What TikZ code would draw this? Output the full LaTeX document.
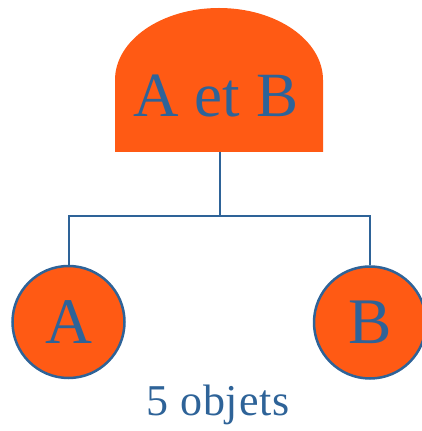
\documentclass[tikz,border=0pt]{standalone}
\usepackage{fontspec}
\setmainfont{Liberation Serif}
\definecolor{orng}{RGB}{255,90,20}
\definecolor{blu}{RGB}{46,99,152}
\tikzset{
  leaf/.style={circle,fill=orng,draw=blu,line width=2.5pt,minimum size=112pt,inner sep=0pt,text=blu,font=\fontsize{65}{65}\selectfont},
  conn/.style={draw=blu,line width=2pt},
}
\begin{document}
\begin{tikzpicture}[x=1pt,y=1pt]
\useasboundingbox (0,0) rectangle (422,431);
% dome
\fill[orng] (115,279) -- (115,351) arc (180:0:104 and 72) -- (323,279) -- cycle;
\node[anchor=base,text=blu,font=\fontsize{63}{63}\selectfont,inner sep=0pt] (top) at (216,314) {A et B};
\coordinate (topb) at (219.5,279);
\coordinate (j) at (219.5,215);
\node[leaf] (A) at (68.5,109) {A};
\node[leaf] (B) at (370,108.5) {B};
\draw[conn] (topb) -- (j);
\draw[conn] (A.north) |- (j) -| (B.north);
\node[anchor=base,text=blu,font=\fontsize{44}{44}\selectfont\addfontfeature{LetterSpace=2},inner sep=0pt] (cnt) at (218,16) {5 objets};
\end{tikzpicture}
\end{document}
